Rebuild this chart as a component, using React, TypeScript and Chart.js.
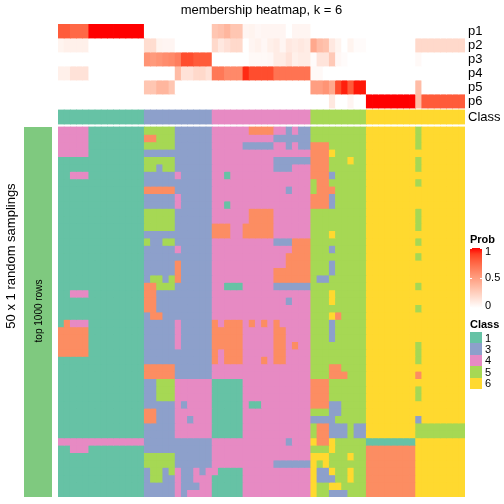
import React, { useEffect, useRef } from "react";
import { Chart, registerables } from "chart.js";

Chart.register(...registerables);

const FONT = "'Liberation Sans', Arial, Helvetica, sans-serif";

// ---------------- data ----------------
const title = "membership heatmap, k = 6";
const rowTitle = "50 x 1 random samplings";
const sliceTitle = "top 1000 rows";
const probLabels = ["p1", "p2", "p3", "p4", "p5", "p6"];
const classRowLabel = "Class";
const legendClasses = ["1", "3", "4", "5", "6"];
const probTickLabels = ["1", "0.5", "0"];
const probTickValues = [1, 0.5, 0];

// predicted class of each of the 66 samples (columns)
const sampleClass =
  "11111111111111 33333333333 4444444444444444 555555555 6666666666666666";

// membership probabilities per column
const p1 = [
  0.8, 0.8, 0.75, 0.75, 0.75, 1, 1, 1, 1, 1, 1, 1, 1, 1,
  0, 0, 0, 0, 0, 0, 0, 0, 0, 0, 0,
  0.3, 0.33, 0.38, 0.3, 0.3, 0.05, 0.06, 0.04, 0.05, 0.05, 0.05, 0.05, 0, 0.05, 0.05, 0.05,
  0, 0, 0, 0, 0, 0, 0, 0, 0,
  0, 0, 0, 0, 0, 0, 0, 0, 0, 0, 0, 0, 0, 0, 0, 0,
];
const p2 = [
  0.06, 0.08, 0.08, 0.08, 0.08, 0, 0, 0, 0, 0, 0, 0, 0, 0,
  0.18, 0.18, 0.06, 0.05, 0.05, 0, 0, 0, 0, 0, 0,
  0.2, 0.12, 0.16, 0.2, 0.2, 0, 0.05, 0.07, 0.04, 0.08, 0.1, 0.05, 0.12, 0.1, 0.12, 0.1,
  0.45, 0.35, 0.32, 0.12, 0.06, 0, 0.06, 0.02, 0.02,
  0, 0, 0, 0, 0, 0, 0, 0, 0.2, 0.2, 0.2, 0.2, 0.2, 0.2, 0.2, 0.2,
];
const p3 = [
  0, 0, 0, 0, 0, 0, 0, 0, 0, 0, 0, 0, 0, 0,
  0.55, 0.52, 0.55, 0.58, 0.6, 0.65, 0.85, 0.85, 0.8, 0.8, 0.8,
  0, 0, 0, 0, 0, 0, 0.03, 0.03, 0.03, 0.04, 0.1, 0.1, 0.15, 0.08, 0.1, 0.1,
  0.02, 0.14, 0.14, 0.28, 0.04, 0.02, 0, 0, 0,
  0, 0, 0, 0, 0, 0, 0, 0, 0.03, 0, 0, 0, 0, 0, 0, 0,
];
const p4 = [
  0.08, 0.08, 0.15, 0.15, 0.15, 0, 0, 0, 0, 0, 0, 0, 0, 0,
  0, 0, 0, 0, 0, 0.35, 0.15, 0.15, 0.2, 0.2, 0.15,
  0.68, 0.68, 0.6, 0.6, 0.6, 0.95, 0.85, 0.85, 0.85, 0.85, 0.7, 0.7, 0.7, 0.7, 0.7, 0.7,
  0.03, 0.03, 0, 0, 0, 0, 0, 0, 0,
  0, 0, 0, 0, 0, 0, 0, 0, 0, 0, 0, 0, 0, 0, 0, 0,
];
const p5 = [
  0, 0, 0, 0, 0, 0, 0, 0, 0, 0, 0, 0, 0, 0,
  0.3, 0.3, 0.38, 0.38, 0.3, 0, 0, 0, 0, 0, 0,
  0, 0, 0, 0, 0, 0, 0, 0, 0, 0, 0, 0, 0, 0, 0, 0,
  0.5, 0.5, 0.55, 0.45, 0.85, 0.97, 0.8, 0.98, 0.98,
  0, 0, 0, 0, 0, 0, 0, 0, 0.35, 0, 0, 0, 0, 0, 0, 0,
];
const p6 = [
  0, 0, 0, 0, 0, 0, 0, 0, 0, 0, 0, 0, 0, 0,
  0, 0, 0, 0, 0, 0, 0, 0, 0, 0, 0,
  0, 0, 0, 0, 0, 0, 0, 0, 0, 0, 0, 0, 0, 0, 0, 0,
  0, 0, 0, 0.12, 0, 0, 0.05, 0, 0,
  1, 1, 1, 1, 1, 1, 1, 1, 0.35, 0.8, 0.8, 0.8, 0.8, 0.8, 0.8, 0.8,
];

// class assigned in each of the 50 random samplings (rows) for each column
const membership = [
  "44444111111111 55555333333 4444442222443433 555555555 6666666656666666",
  "44444111111111 22555333333 4444444444333333 555555555 6666666656666666",
  "44444111111111 55555333333 4444433333443433 222555555 6666666656666666",
  "44444111111111 33333333333 4444444444444444 222655555 6666666666666666",
  "11111111111111 55555333333 4444444444333333 222555655 6666666656666666",
  "11111111111111 55355333333 4444444444333444 222555555 6666666656666666",
  "11444111111111 33333433333 4414444444444444 222355555 6666666666666666",
  "11111111111111 33333333333 4444444444444444 522555555 6666666656666666",
  "11111111111111 22222333333 4444444444443444 522255555 6666666666666666",
  "11111111111111 33333433333 4444444444444444 222355555 6666666666666666",
  "11111111111111 33333433333 4414444444444444 222355555 6666666666666666",
  "11111111111111 55555333333 4444442222444444 555555555 6666666656666666",
  "11111111111111 55555333333 4444442222444444 555555555 6666666656666666",
  "11111111111111 55555333333 2224422222444444 555555555 6666666656666666",
  "11111111111111 33333333333 2224422222444444 555655555 6666666666666666",
  "11111111111111 53355333333 4444444444333222 555555555 6666666656666666",
  "11111111111111 33333433333 4444444444444222 555355555 6666666666666666",
  "11111111111111 33333333333 4444444444442222 555555555 6666666656666666",
  "11111111111111 33333233333 4444444444442222 555355555 6666666666666666",
  "11111111111111 33333233333 4444444444222222 555355555 6666666666666666",
  "11111111111111 35535233333 4444444444222222 533555555 6666666666666666",
  "11111111111111 22555333333 4411144444333333 555555555 6666666656666666",
  "11444111111111 22333333333 4444444444444444 555655555 6666666666666666",
  "11111111111111 22333333333 4444444444443444 555655555 6666666666666666",
  "11111111111111 22333333333 4444444444444444 555555555 6666666656666666",
  "11111111111111 32233333333 4444444444444444 555625555 6666666666666666",
  "12444111111111 33333433333 2422242424244444 555355555 6666666666666666",
  "22222111111111 33333433333 2222244444224444 555355555 6666666666666666",
  "22222111111111 33333433333 2222244444224444 555355555 6666666666666666",
  "22222111111111 33333433333 2222244444224244 555555555 6666666656666666",
  "22222111111111 33333333333 2422244444224444 555555555 6666666656666666",
  "11111111111111 33333333333 2422244424224444 555555555 6666666656666666",
  "11111111111111 22222333333 4444444444444444 555225555 6666666666666666",
  "11111111111111 22222333333 4444444444444444 555222555 6666666626666666",
  "11111111111111 33555444444 1111144444444444 222555555 6666666666666666",
  "11111111111111 33555444444 1111144444444444 222555555 6666666656666666",
  "11111111111111 33555444444 1111144444444444 222555555 6666666656666666",
  "11111111111111 33333434444 1111141144444444 222335555 6666666666666666",
  "11111111111111 22333444444 1111144444444444 555335555 6666666666666666",
  "11111111111111 22333443444 1111144444444444 333355555 6666666636666666",
  "11111111111111 33333444444 1111144444444444 522333533 6666666655555555",
  "11111111111111 33333444444 1111144444444444 522333533 6666666655555555",
  "44444444444444 33333333333 4444444444443444 622655555 1111111166666666",
  "11444111111111 33333333333 4444444444444444 555655555 2222222266666666",
  "11111111111111 55555333333 4444444444444444 666555655 2222222266666666",
  "11111111111111 55555333333 4444444444333333 656555555 2222222266666666",
  "11111111111111 35535433434 4111144444444444 633655655 2222222266666666",
  "11111111111111 35533433444 1111144444444444 633355655 2222222266666666",
  "11111111111111 33333433344 1111144444444444 655665555 2222222266666666",
  "11111111111111 33333434444 1111144444444444 655333555 2222222266666666",
];

// ---------------- styles / layout ----------------
const classColors: Record<string, string> = {
  "1": "#66C2A5",
  "2": "#FC8D62",
  "3": "#8DA0CB",
  "4": "#E78AC3",
  "5": "#A6D854",
  "6": "#FFD92F",
};
const SLICE_COLOR = "#7FC97F";

const ANN_ROW_H = 14;
const CLASS_TOP = 86;
const CLASS_H = 14;
const MAIN_TOP = 103;
const MAIN_ROW_H = 7.4;
const Y_MAX = 473;

// white -> red in CIE Lab
function labToHex(L: number, a: number, b: number) {
  const fy = (L + 16) / 116;
  const fx = fy + a / 500;
  const fz = fy - b / 200;
  const f = (t: number) => (t ** 3 > 0.008856 ? t ** 3 : (t - 16 / 116) / 7.787);
  const X = 0.95047 * f(fx);
  const Y = f(fy);
  const Z = 1.08883 * f(fz);
  const lin = [
    3.2406 * X - 1.5372 * Y - 0.4986 * Z,
    -0.9689 * X + 1.8758 * Y + 0.0415 * Z,
    0.0557 * X - 0.204 * Y + 1.057 * Z,
  ];
  const out = lin.map((c) => {
    const v = c <= 0.0031308 ? 12.92 * c : 1.055 * Math.pow(Math.max(c, 0), 1 / 2.4) - 0.055;
    return Math.round(Math.min(1, Math.max(0, v)) * 255);
  });
  return `rgb(${out[0]},${out[1]},${out[2]})`;
}
function probColor(t: number) {
  const W = [100, 0, 0];
  const R = [53.24, 80.09, 67.2];
  return labToHex(
    W[0] + (R[0] - W[0]) * t,
    W[1] + (R[1] - W[1]) * t,
    W[2] + (R[2] - W[2]) * t
  );
}

export default function App() {
  const ref = useRef<HTMLCanvasElement | null>(null);

  useEffect(() => {
    if (!ref.current) return;
    const classes = sampleClass.replace(/\s/g, "").split("");
    const labels = classes.map((_, j) => String(j + 1));
    const probs = [p1, p2, p3, p4, p5, p6];

    const datasets: any[] = [];
    probs.forEach((row, k) => {
      const y0 = k * ANN_ROW_H;
      datasets.push({
        data: labels.map(() => [y0, y0 + ANN_ROW_H]),
        backgroundColor: labels.map((_, j) => probColor(row[j] ?? 0)),
      });
    });
    datasets.push({
      data: labels.map(() => [CLASS_TOP, CLASS_TOP + CLASS_H]),
      backgroundColor: classes.map((c) => classColors[c]),
    });
    membership.forEach((rowStr, i) => {
      const cells = rowStr.replace(/\s/g, "").split("");
      const y0 = MAIN_TOP + i * MAIN_ROW_H;
      datasets.push({
        data: labels.map(() => [y0, y0 + MAIN_ROW_H]),
        backgroundColor: labels.map((_, j) => classColors[cells[j] ?? classes[j]]),
      });
    });

    const tickVals = [
      ...probLabels.map((_, k) => k * ANN_ROW_H + ANN_ROW_H / 2),
      CLASS_TOP + CLASS_H / 2,
    ];
    const tickText = [...probLabels, classRowLabel];

    const chart = new Chart(ref.current, {
      type: "bar",
      data: { labels, datasets },
      options: {
        responsive: false,
        animation: false,
        events: [],
        layout: { padding: { left: 58, top: 24, right: 0, bottom: 7 } },
        plugins: {
          legend: { display: false },
          tooltip: { enabled: false },
          title: { display: false },
        },
        datasets: {
          bar: {
            grouped: false,
            barPercentage: 1,
            categoryPercentage: 1,
            borderWidth: 0,
            inflateAmount: 0.4,
          },
        } as any,
        scales: {
          x: { display: false, grid: { display: false } },
          y: {
            type: "linear",
            position: "right",
            min: 0,
            max: Y_MAX,
            reverse: true,
            grid: { display: false, drawTicks: false },
            border: { display: false },
            afterFit: (s: any) => {
              s.width = 39;
              s.paddingTop = 0;
              s.paddingBottom = 0;
            },
            afterBuildTicks: (s: any) => {
              s.ticks = tickVals.map((v) => ({ value: v }));
            },
            ticks: {
              autoSkip: false,
              padding: 3,
              color: "#000",
              font: { family: FONT, size: 13 },
              callback: (_v: any, i: number) => tickText[i],
            },
          } as any,
        },
      },
    });
    return () => chart.destroy();
  }, []);

  const gradStops = [1, 0.9, 0.8, 0.7, 0.6, 0.5, 0.4, 0.3, 0.2, 0.1, 0]
    .map((t, i) => `${probColor(t)} ${i * 10}%`)
    .join(", ");

  const rotated = (text: string, cx: number, cy: number, size: number) => (
    <div
      style={{
        position: "absolute",
        left: cx - 100,
        top: cy - 8,
        width: 200,
        height: 16,
        lineHeight: "16px",
        fontSize: size,
        textAlign: "center",
        transform: "rotate(-90deg)",
        transformOrigin: "50% 50%",
        whiteSpace: "nowrap",
        color: "#000",
      }}
    >
      {text}
    </div>
  );

  return (
    <div
      style={{
        position: "fixed",
        left: 0,
        top: 0,
        width: 504,
        height: 504,
        background: "#fff",
        fontFamily: FONT,
        overflow: "hidden",
      }}
    >
      <canvas ref={ref} width={504} height={504} style={{ display: "block", position: "absolute", left: 0, top: 0 }} />
      <div
        style={{
          position: "absolute",
          left: 58,
          top: 2,
          width: 407,
          height: 16,
          lineHeight: "16px",
          fontSize: 13,
          textAlign: "center",
          color: "#000",
        }}
      >
        {title}
      </div>
      <div style={{ position: "absolute", left: 24, top: 127, width: 28, height: 370, background: SLICE_COLOR }} />
      {rotated(rowTitle, 11, 256, 13)}
      {rotated(sliceTitle, 38.5, 311, 10)}

      {/* Prob legend */}
      <div style={{ position: "absolute", left: 470, top: 233, fontSize: 11, fontWeight: "bold", lineHeight: "13px" }}>Prob</div>
      <div
        style={{
          position: "absolute",
          left: 470,
          top: 248,
          width: 12,
          height: 60,
          background: `linear-gradient(to bottom, ${gradStops})`,
        }}
      />
      {probTickValues.map((v, i) => {
        const y = 248 + (1 - v) * 60;
        return (
          <React.Fragment key={probTickLabels[i]}>
            <div style={{ position: "absolute", left: 470, top: Math.min(y, 307) - 0.5, width: 2, height: 1, background: "#fff" }} />
            <div style={{ position: "absolute", left: 480, top: Math.min(y, 307) - 0.5, width: 2, height: 1, background: "#fff" }} />
            <div style={{ position: "absolute", left: 485, top: Math.min(Math.max(y, 252), 306) - 7, fontSize: 11, lineHeight: "13px" }}>
              {probTickLabels[i]}
            </div>
          </React.Fragment>
        );
      })}

      {/* Class legend */}
      <div style={{ position: "absolute", left: 470, top: 318, fontSize: 11, fontWeight: "bold", lineHeight: "13px" }}>Class</div>
      {legendClasses.map((c, i) => (
        <React.Fragment key={c}>
          <div
            style={{
              position: "absolute",
              left: 470,
              top: 332 + i * 11.4,
              width: 12,
              height: 11.4,
              background: classColors[c],
            }}
          />
          <div style={{ position: "absolute", left: 485, top: 332 + i * 11.4 - 0.5, fontSize: 11, lineHeight: "13px" }}>{c}</div>
        </React.Fragment>
      ))}
    </div>
  );
}
